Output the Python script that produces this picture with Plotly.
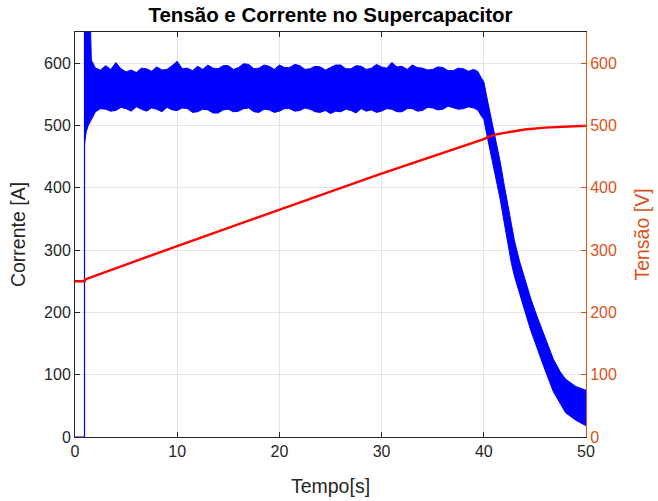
import plotly.graph_objects as go

# ---------------- data ----------------
# Current (A): the noisy current is drawn as a band between its upper and lower envelopes
t_env = [0.93, 1.1, 1.3, 1.45, 1.6, 1.8,
         2.0, 2.5, 3.0, 3.5, 4.0, 4.5, 5.0, 5.5, 6.0, 6.5, 7.0, 7.5, 8.0, 8.5, 9.0, 9.5,
         10.0, 10.5, 11.0, 11.5, 12.0, 12.5, 13.0, 13.5, 14.0, 14.5, 15.0, 15.5, 16.0, 16.5,
         17.0, 17.5, 18.0, 18.5, 19.0, 19.5, 20.0, 20.5, 21.0, 21.5, 22.0, 22.5, 23.0, 23.5,
         24.0, 24.5, 25.0, 25.5, 26.0, 26.5, 27.0, 27.5, 28.0, 28.5, 29.0, 29.5, 30.0, 30.5,
         31.0, 31.5, 32.0, 32.5, 33.0, 33.5, 34.0, 34.5, 35.0, 35.5, 36.0, 36.5, 37.0, 37.5,
         38.0, 38.5, 39.0,
         39.4, 39.8, 40.0, 40.3, 40.6, 41.0, 41.6, 42.0, 42.4, 42.7, 43.0, 43.5, 44.0, 44.6,
         45.2, 45.8, 46.8, 47.5, 48.0, 49.0, 50.0]
i_upper = [700, 700, 700, 700, 605, 597,
           592, 589, 596, 590, 601, 591, 586, 589, 585, 592, 591, 587, 594, 589, 590, 596,
           603, 591, 592, 588, 595, 590, 597, 592, 591, 596, 596, 590, 593, 599, 598, 591,
           592, 597, 595, 590, 597, 593, 593, 598, 596, 590, 591, 595, 594, 589, 593, 597,
           597, 591, 591, 596, 595, 590, 592, 598, 594, 592, 601, 594, 595, 590, 597, 593,
           592, 589, 590, 594, 593, 588, 588, 592, 591, 587, 590,
           587, 575, 570, 545, 522, 490, 442, 404, 366, 339, 315, 282, 254, 222,
           194, 167, 125, 104, 93, 81, 75]
i_lower = [470, 490, 500, 505, 510, 516,
           522, 527, 526, 523, 524, 529, 527, 523, 530, 526, 523, 528, 526, 522, 529, 525,
           524, 528, 527, 521, 522, 526, 525, 520, 520, 525, 526, 522, 523, 527, 528, 522,
           521, 526, 525, 521, 523, 527, 527, 523, 524, 528, 526, 522, 521, 524, 519, 523,
           522, 526, 524, 520, 527, 523, 525, 521, 523, 527, 526, 522, 522, 527, 527, 523,
           524, 529, 528, 525, 526, 531, 529, 526, 527, 530, 528,
           525, 514, 510, 485, 462, 430, 382, 344, 306, 279, 258, 229, 203, 171,
           143, 116, 73, 52, 39, 27, 18]

# Current before start-up (A)
t_start = [0, 0.93, 0.93]
i_start = [0, 0, 700]

# Supercapacitor voltage (V)
t_v = [0, 0.95, 1.0, 10.2, 29.7, 37.8, 40.0, 40.5, 41.0, 42.0, 43.0, 44.0, 46.0, 48.0, 50.0]
v_v = [250, 250, 253, 307.7, 421, 465, 478, 482, 485, 488, 491, 493.5, 496.5, 498.5, 499.5]

x_ticks = [0, 10, 20, 30, 40, 50]
y_ticks = [0, 100, 200, 300, 400, 500, 600]

# ---------------- styling ----------------
BLUE = "#0000FF"
RED = "#FF0000"
ORANGE = "#D95319"
DARK = "#262626"
GRID = "#e3e3e3"
FONT = "Liberation Sans, Arial, Helvetica, sans-serif"

fig = go.Figure()

fig.add_trace(go.Scatter(x=t_start, y=i_start, mode="lines",
                         line=dict(color=BLUE, width=1.2), showlegend=False, hoverinfo="skip"))
fig.add_trace(go.Scatter(x=t_env, y=i_upper, mode="lines",
                         line=dict(color=BLUE, width=1), showlegend=False))
fig.add_trace(go.Scatter(x=t_env, y=i_lower, mode="lines", fill="tonexty",
                         fillcolor=BLUE, line=dict(color=BLUE, width=1), showlegend=False))

fig.add_trace(go.Scatter(x=t_v, y=v_v, mode="lines", yaxis="y2",
                         line=dict(color=RED, width=2.4), showlegend=False))

fig.update_layout(
    width=658, height=501,
    margin=dict(l=75, r=72, t=32, b=64),
    paper_bgcolor="white", plot_bgcolor="white",
    font=dict(family=FONT, size=16, color=DARK),
    title=dict(text="<b>Tensão e Corrente no Supercapacitor</b>", x=0.5, xanchor="center",
               xref="paper", y=0.971, yanchor="middle", font=dict(size=20.5, color="#000000")),
    xaxis=dict(range=[0, 50], tickvals=x_ticks, showgrid=True, gridcolor=GRID,
               showline=True, linecolor=DARK, linewidth=1, mirror="ticks",
               ticks="inside", ticklen=5, tickcolor=DARK, zeroline=False,
               title=dict(text="Tempo[s]", font=dict(size=19.5, color=DARK), standoff=20),
               tickfont=dict(size=16, color=DARK), automargin=False),
    yaxis=dict(range=[0, 650], tickvals=y_ticks, showgrid=True, gridcolor=GRID,
               showline=True, linecolor=DARK, linewidth=1,
               ticks="inside", ticklen=5, tickcolor=DARK, zeroline=False,
               title=dict(text="Corrente [A]", font=dict(size=19.5, color=DARK), standoff=13),
               tickfont=dict(size=16, color=DARK), automargin=False),
    yaxis2=dict(range=[0, 650], tickvals=y_ticks, overlaying="y", side="right",
                showgrid=False, showline=True, linecolor=ORANGE, linewidth=1,
                ticks="inside", ticklen=5, tickcolor=ORANGE, zeroline=False,
                title=dict(text="Tensão [V]", font=dict(size=19.5, color=ORANGE), standoff=19),
                tickfont=dict(size=16, color=ORANGE), automargin=False),
)

# remove the browser's default 8 px body margin so the figure fills the window exactly
fig.write_html("out.html",
               config={"displayModeBar": False},
               post_script="document.body.style.margin='0';document.body.style.overflow='hidden';")
